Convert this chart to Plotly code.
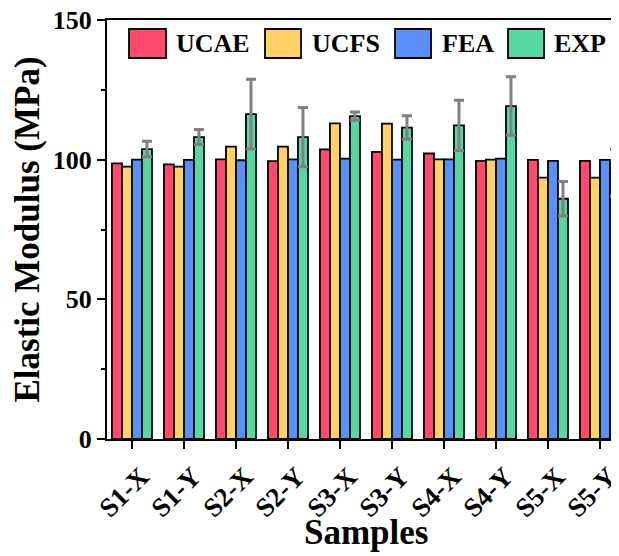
import plotly.graph_objects as go

samples = ["S1-X", "S1-Y", "S2-X", "S2-Y", "S3-X", "S3-Y", "S4-X", "S4-Y", "S5-X", "S5-Y"]
ucae = [98.7, 98.3, 100.1, 99.5, 103.7, 102.8, 102.2, 99.6, 99.9, 99.6]
ucfs = [97.5, 97.5, 104.7, 104.7, 113.0, 112.9, 100.1, 100.0, 93.6, 93.6]
fea = [100.0, 99.9, 99.8, 100.1, 100.4, 100.0, 100.1, 100.4, 99.6, 99.9]
exp_vals = [103.8, 108.1, 116.3, 108.1, 115.6, 111.5, 112.3, 119.2, 86.0, 95.3]
exp_err = [2.8, 2.7, 12.5, 10.6, 1.5, 4.2, 9.0, 10.5, 6.2, 8.4]

series_names = ["UCAE", "UCFS", "FEA", "EXP"]
colors = ["#FF4A6E", "#FFD166", "#5B8FF9", "#57D8A2"]

W, H = 619, 556
OFF = 8  # page body margin offset
L, R, T, B = 99, 0, 12, 125
pw, ph = W - L - R, H - T - B

FONT = "Liberation Serif"

fig = go.Figure()
for name, vals, col in zip(series_names, [ucae, ucfs, fea, exp_vals], colors):
    kw = {}
    if name == "EXP":
        kw["error_y"] = dict(type="data", array=exp_err, visible=True,
                             color="#808080", thickness=3, width=5)
    fig.add_trace(go.Bar(
        x=samples, y=vals, name=name,
        marker=dict(color=col, line=dict(color="black", width=1.8)),
        showlegend=False, **kw))

# custom legend (large swatches), positions given in screen pixels
def px2x(px):
    return (px - OFF - L) / pw

def px2y(py):
    return (H - B - (py - OFF)) / ph

legend_items = [(129, 166, 174), (265, 301, 310), (395, 431, 440), (508, 544, 552)]
shapes = []
annotations = []
for (x0, x1, tx), name, col in zip(legend_items, series_names, colors):
    shapes.append(dict(type="rect", xref="paper", yref="paper",
                       x0=px2x(x0), x1=px2x(x1), y0=px2y(58), y1=px2y(29),
                       fillcolor=col, line=dict(color="black", width=1.8), layer="above"))
    annotations.append(dict(xref="paper", yref="paper", x=px2x(tx), y=px2y(44),
                            xanchor="left", yanchor="middle", showarrow=False,
                            text=name, font=dict(family=FONT, size=26, color="black", weight="bold")))

# x-axis title as annotation
annotations.append(dict(xref="paper", yref="paper", x=px2x(366), y=px2y(532),
                        xanchor="center", yanchor="middle", showarrow=False,
                        text="Samples", font=dict(family=FONT, size=35, color="black", weight="bold")))

# x range chosen so category centres land 52 px apart starting at screen x=132
x_left = -0.48
x_right = x_left + pw / 52.0

fig.update_layout(
    width=W, height=H,
    margin=dict(l=L, r=R, t=T, b=B, pad=0, autoexpand=False),
    paper_bgcolor="white", plot_bgcolor="white",
    font=dict(family=FONT, color="black", weight="bold"),
    barmode="group", bargap=0.23, bargroupgap=0,
    shapes=shapes, annotations=annotations,
)
fig.update_xaxes(
    range=[x_left, x_right], showline=True, linecolor="black", linewidth=2, mirror=True,
    ticks="outside", ticklen=8, tickwidth=2, tickcolor="black", tickangle=-45,
    ticklabelshift=9, ticklabelstandoff=1, ticklabeloverflow="allow",
    tickfont=dict(family=FONT, size=27, color="black", weight="bold"),
    showgrid=False, zeroline=False, automargin=False,
)
fig.update_yaxes(
    range=[0, 150], dtick=50, showline=True, linecolor="black", linewidth=2, mirror=False,
    ticks="outside", ticklen=8, tickwidth=2, tickcolor="black", ticklabeloverflow="allow",
    minor=dict(dtick=25, ticks="outside", ticklen=4, tickwidth=2, tickcolor="black"),
    tickfont=dict(family=FONT, size=26, color="black", weight="bold"),
    title=dict(text="Elastic Modulus (MPa)", font=dict(family=FONT, size=35, color="black", weight="bold"), standoff=6),
    showgrid=False, zeroline=False, automargin=False,
)

fig.write_html("out.html")
